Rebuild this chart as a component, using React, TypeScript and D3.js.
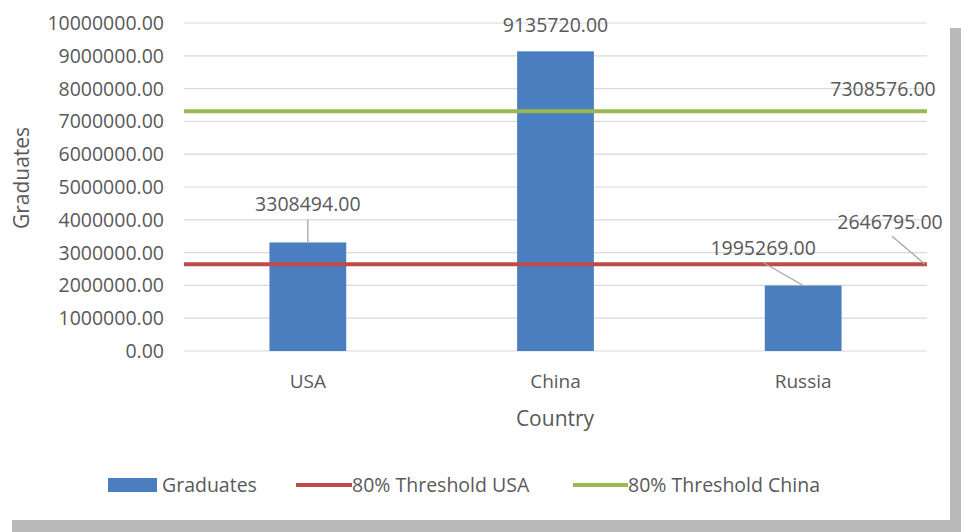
import React, { useEffect, useRef } from 'react';
import * as d3 from 'd3';

const countries = ['USA', 'China', 'Russia'];
const graduates = [3308494, 9135720, 1995269];
const thresholdUSA = 2646795;
const thresholdChina = 7308576;
const yTicks = [0, 1000000, 2000000, 3000000, 4000000, 5000000, 6000000, 7000000, 8000000, 9000000, 10000000];

const W = 961;
const H = 532;
const FONT = '"Open Sans", sans-serif';
const TXT = '#595959';
const BLUE = '#4a7ebf';
const RED = '#be4b48';
const GREEN = '#98b954';

export default function App() {
  const svgRef = useRef<SVGSVGElement>(null);

  useEffect(() => {
    if (!svgRef.current) return;
    const svg = d3.select(svgRef.current);
    svg.selectAll('*').remove();

    // frame + shadow
    svg.append('rect').attr('width', W).attr('height', H).attr('fill', '#ffffff');
    svg.append('rect').attr('x', 950).attr('y', 28).attr('width', 11).attr('height', H - 28).attr('fill', '#b9b9b9');
    svg.append('rect').attr('x', 12).attr('y', 520).attr('width', W - 12).attr('height', 12).attr('fill', '#b9b9b9');

    const x = d3.scaleBand<string>().domain(countries).range([184, 927]).paddingInner(0.69).paddingOuter(0.345);
    const y = d3.scaleLinear().domain([0, 10000000]).range([351, 23]);
    const fmt = d3.format('.2f');

    // gridlines
    svg.append('g')
      .selectAll('line')
      .data(yTicks)
      .enter()
      .append('line')
      .attr('x1', 184)
      .attr('x2', 927)
      .attr('y1', (d) => y(d))
      .attr('y2', (d) => y(d))
      .attr('stroke', '#d9d9d9')
      .attr('stroke-width', 1.2);

    // tick labels
    svg.append('g')
      .selectAll('text')
      .data(yTicks)
      .enter()
      .append('text')
      .attr('x', 164)
      .attr('y', (d) => y(d))
      .attr('dy', '0.36em')
      .attr('text-anchor', 'end')
      .attr('font-family', FONT)
      .attr('font-size', 19.5)
      .attr('fill', TXT)
      .text((d) => fmt(d));

    // bars
    svg.append('g')
      .selectAll('rect')
      .data(graduates)
      .enter()
      .append('rect')
      .attr('x', (d, i) => x(countries[i])!)
      .attr('y', (d) => y(d))
      .attr('width', x.bandwidth())
      .attr('height', (d) => y(0) - y(d))
      .attr('fill', BLUE);

    // threshold lines
    [
      { v: thresholdUSA, c: RED },
      { v: thresholdChina, c: GREEN },
    ].forEach((t) => {
      svg.append('line')
        .attr('x1', 184)
        .attr('x2', 927)
        .attr('y1', y(t.v))
        .attr('y2', y(t.v))
        .attr('stroke', t.c)
        .attr('stroke-width', 4);
    });

    // category labels
    svg.append('g')
      .selectAll('text')
      .data(countries)
      .enter()
      .append('text')
      .attr('x', (d) => x(d)! + x.bandwidth() / 2)
      .attr('y', 381)
      .attr('dy', '0.36em')
      .attr('text-anchor', 'middle')
      .attr('font-family', FONT)
      .attr('font-size', 19)
      .attr('fill', TXT)
      .text((d) => d);

    // axis titles
    svg.append('text')
      .attr('x', 555)
      .attr('y', 418)
      .attr('dy', '0.36em')
      .attr('text-anchor', 'middle')
      .attr('font-family', FONT)
      .attr('font-size', 21)
      .attr('fill', TXT)
      .text('Country');

    svg.append('text')
      .attr('transform', 'translate(21,178) rotate(-90)')
      .attr('dy', '0.36em')
      .attr('text-anchor', 'middle')
      .attr('font-family', FONT)
      .attr('font-size', 21)
      .attr('fill', TXT)
      .text('Graduates');

    // data labels: [text x, text y, leader from, leader to]
    const labelText = (lx: number, ly: number, v: number) =>
      svg.append('text')
        .attr('x', lx)
        .attr('y', ly)
        .attr('dy', '0.36em')
        .attr('text-anchor', 'middle')
        .attr('font-family', FONT)
        .attr('font-size', 19.5)
        .attr('fill', TXT)
        .text(fmt(v));
    const leader = (x1: number, y1: number, x2: number, y2: number) =>
      svg.append('line')
        .attr('x1', x1).attr('y1', y1).attr('x2', x2).attr('y2', y2)
        .attr('stroke', '#a6a6a6').attr('stroke-width', 1.3);

    const cx = (i: number) => x(countries[i])! + x.bandwidth() / 2;

    labelText(cx(0), y(graduates[0]) - 39, graduates[0]);
    leader(cx(0), y(graduates[0]) - 23, cx(0), y(graduates[0]));

    labelText(cx(1), y(graduates[1]) - 26, graduates[1]);

    labelText(cx(2) - 40, y(graduates[2]) - 38, graduates[2]);
    leader(cx(2) - 40, y(graduates[2]) - 23, cx(2), y(graduates[2]));

    labelText(883, y(thresholdChina) - 22, thresholdChina);

    labelText(890, y(thresholdUSA) - 42, thresholdUSA);
    leader(892, y(thresholdUSA) - 28, 925, y(thresholdUSA));

    // legend
    const ly = 485;
    svg.append('rect').attr('x', 108).attr('y', ly - 7).attr('width', 49).attr('height', 14).attr('fill', BLUE);
    svg.append('text').attr('x', 162).attr('y', ly).attr('dy', '0.36em')
      .attr('font-family', FONT).attr('font-size', 19.5).attr('fill', TXT).text('Graduates');

    svg.append('line').attr('x1', 296).attr('x2', 352).attr('y1', ly).attr('y2', ly)
      .attr('stroke', RED).attr('stroke-width', 4);
    svg.append('text').attr('x', 352).attr('y', ly).attr('dy', '0.36em')
      .attr('font-family', FONT).attr('font-size', 19.5).attr('fill', TXT).text('80% Threshold USA');

    svg.append('line').attr('x1', 573).attr('x2', 628).attr('y1', ly).attr('y2', ly)
      .attr('stroke', GREEN).attr('stroke-width', 4);
    svg.append('text').attr('x', 628).attr('y', ly).attr('dy', '0.36em')
      .attr('font-family', FONT).attr('font-size', 19.5).attr('fill', TXT).text('80% Threshold China');
  }, []);

  return (
    <div style={{ position: 'absolute', left: 0, top: 0 }}>
      <svg ref={svgRef} width={W} height={H} style={{ display: 'block' }} />
    </div>
  );
}
